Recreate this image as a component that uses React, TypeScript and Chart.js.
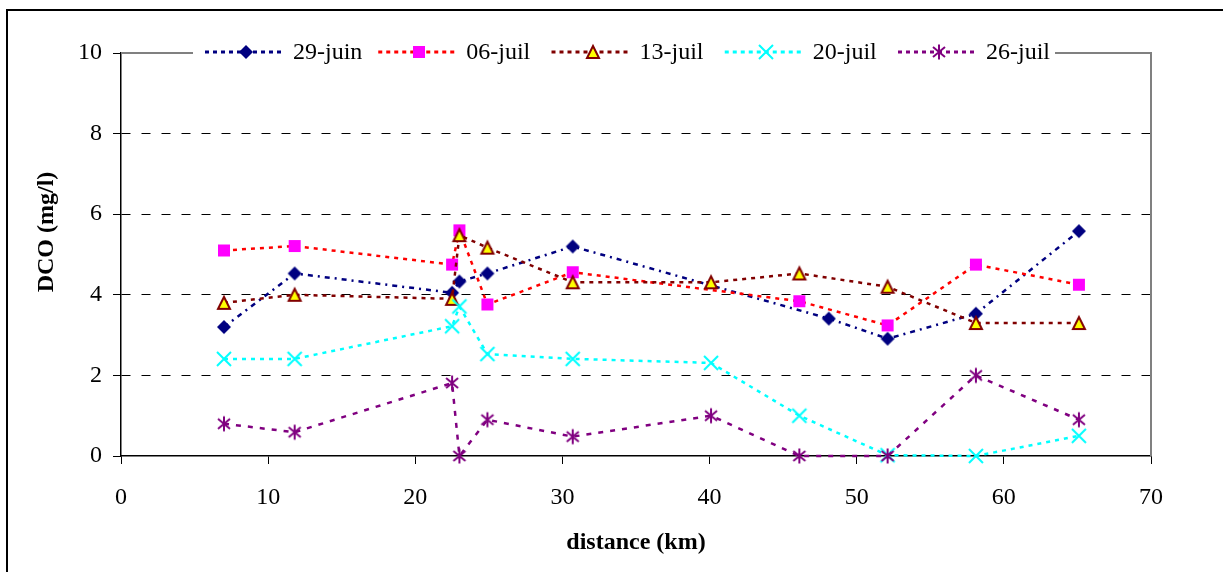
import React, { useEffect, useRef } from 'react';
import { Chart, registerables } from 'chart.js';

Chart.register(...registerables);

// ---- Data ----
const SERIES_NAMES = ['29-juin', '06-juil', '13-juil', '20-juil', '26-juil'];

const DIST_29JUIN = [7, 11.8, 22.5, 23, 24.9, 30.7, 48.1, 52.1, 58.1, 65.1];
const DCO_29JUIN = [3.2, 4.53, 4.05, 4.33, 4.53, 5.2, 3.41, 2.91, 3.53, 5.58];

const DIST_06JUIL = [7, 11.8, 22.5, 23, 24.9, 30.7, 46.1, 52.1, 58.1, 65.1];
const DCO_06JUIL = [5.1, 5.21, 4.75, 5.6, 3.76, 4.56, 3.84, 3.24, 4.75, 4.25];

const DIST_13JUIL = [7, 11.8, 22.5, 23, 24.9, 30.7, 40.1, 46.1, 52.1, 58.1, 65.1];
const DCO_13JUIL = [3.8, 4.0, 3.9, 5.48, 5.17, 4.31, 4.31, 4.53, 4.2, 3.3, 3.3];

const DIST_20JUIL = [7, 11.8, 22.5, 23, 24.9, 30.7, 40.1, 46.1, 52.1, 58.1, 65.1];
const DCO_20JUIL = [2.41, 2.41, 3.22, 3.71, 2.53, 2.41, 2.31, 1.0, 0.02, 0, 0.5];

const DIST_26JUIL = [7, 11.8, 22.5, 23, 24.9, 30.7, 40.1, 46.1, 52.1, 58.1, 65.1];
const DCO_26JUIL = [0.8, 0.59, 1.81, 0, 0.9, 0.48, 1.0, 0, 0, 2.0, 0.9];

const X_MIN = 0;
const X_MAX = 70;
const X_STEP = 10;
const Y_MIN = 0;
const Y_MAX = 10;
const Y_STEP = 2;

const X_TITLE = 'distance (km)';
const Y_TITLE = 'DCO (mg/l)';

const FONT = "'Liberation Serif', 'Times New Roman', serif";

// ---- Marker images ----
function makeMarker(kind: string): HTMLCanvasElement {
  const c = document.createElement('canvas');
  c.width = 18;
  c.height = 18;
  const g = c.getContext('2d')!;
  g.lineCap = 'butt';
  if (kind === 'diamond') {
    g.fillStyle = '#000080';
    g.beginPath();
    g.moveTo(9, 2);
    g.lineTo(16, 9);
    g.lineTo(9, 16);
    g.lineTo(2, 9);
    g.closePath();
    g.fill();
  } else if (kind === 'square') {
    g.fillStyle = '#FF00FF';
    g.fillRect(3, 3, 12, 12);
  } else if (kind === 'triangle') {
    g.fillStyle = '#FFFF00';
    g.strokeStyle = '#800000';
    g.lineWidth = 2;
    g.beginPath();
    g.moveTo(9, 3);
    g.lineTo(15, 15);
    g.lineTo(3, 15);
    g.closePath();
    g.fill();
    g.stroke();
  } else if (kind === 'cross') {
    g.strokeStyle = '#00FFFF';
    g.lineWidth = 2;
    g.beginPath();
    g.moveTo(2, 2);
    g.lineTo(16, 16);
    g.moveTo(16, 2);
    g.lineTo(2, 16);
    g.stroke();
  } else {
    g.strokeStyle = '#800080';
    g.lineWidth = 2;
    g.beginPath();
    g.moveTo(9, 1.5);
    g.lineTo(9, 16.5);
    g.moveTo(3, 4);
    g.lineTo(15, 14);
    g.moveTo(15, 4);
    g.lineTo(3, 14);
    g.stroke();
  }
  return c;
}

function pts(xs: number[], ys: number[]) {
  return xs.map((x, i) => ({ x, y: ys[i] }));
}

// ---- Plugins ----
const framePlugin = {
  id: 'frame',
  beforeDraw(chart: any) {
    const ctx = chart.ctx;
    ctx.save();
    ctx.fillStyle = '#fff';
    ctx.fillRect(0, 0, chart.width, chart.height);
    ctx.strokeStyle = '#000';
    ctx.lineWidth = 2;
    ctx.strokeRect(7, 10, 1400, 800);
    ctx.restore();
  },
  beforeDatasetsDraw(chart: any) {
    const { ctx, chartArea } = chart;
    ctx.save();
    ctx.strokeStyle = '#808080';
    ctx.lineWidth = 2;
    ctx.beginPath();
    ctx.moveTo(chartArea.left, chartArea.top);
    ctx.lineTo(chartArea.right, chartArea.top);
    ctx.lineTo(chartArea.right, chartArea.bottom);
    ctx.stroke();
    ctx.restore();
  },
};

const legendPlugin = {
  id: 'customLegend',
  afterDraw(chart: any) {
    const ctx = chart.ctx;
    const y = chart.chartArea.top - 1;
    ctx.save();
    ctx.fillStyle = '#fff';
    ctx.fillRect(193, y - 13, 862, 26);
    chart.data.datasets.forEach((ds: any, i: number) => {
      const x0 = 205 + i * 173.25;
      ctx.setLineDash([4, 4]);
      ctx.strokeStyle = ds.borderColor;
      ctx.lineWidth = 3;
      ctx.beginPath();
      ctx.moveTo(x0, y);
      ctx.lineTo(x0 + 78, y);
      ctx.stroke();
      ctx.setLineDash([]);
      const img = ds.pointStyle as HTMLCanvasElement;
      ctx.drawImage(img, Math.round(x0 + 41 - img.width / 2), Math.round(y - img.height / 2));
      ctx.fillStyle = '#000';
      ctx.font = `24px ${FONT}`;
      ctx.textBaseline = 'middle';
      ctx.textAlign = 'left';
      ctx.fillText(ds.label, x0 + 88, y + 1);
    });
    ctx.restore();
  },
};

const yTitlePlugin = {
  id: 'yTitle',
  afterDraw(chart: any) {
    const ctx = chart.ctx;
    ctx.save();
    ctx.translate(47, 232);
    ctx.rotate(-Math.PI / 2);
    ctx.fillStyle = '#000';
    ctx.font = `bold 24px ${FONT}`;
    ctx.textAlign = 'center';
    ctx.textBaseline = 'middle';
    ctx.fillText(Y_TITLE, 0, 0);
    ctx.restore();
  },
};

export default function App() {
  const canvasRef = useRef<HTMLCanvasElement | null>(null);

  useEffect(() => {
    const canvas = canvasRef.current;
    if (!canvas) return;

    const markers = ['diamond', 'square', 'triangle', 'cross', 'asterisk'].map(makeMarker);
    const colors = ['#000080', '#FF0000', '#800000', '#00FFFF', '#800080'];
    const dashes = [[5, 5, 2, 5], [4, 5], [4, 5], [4, 5], [5, 7]];
    const seriesData = [
      pts(DIST_29JUIN, DCO_29JUIN),
      pts(DIST_06JUIL, DCO_06JUIL),
      pts(DIST_13JUIL, DCO_13JUIL),
      pts(DIST_20JUIL, DCO_20JUIL),
      pts(DIST_26JUIL, DCO_26JUIL),
    ];

    const datasets = SERIES_NAMES.map((name, i) => ({
      label: name,
      data: seriesData[i],
      borderColor: colors[i],
      backgroundColor: colors[i],
      borderWidth: 2.5,
      borderDash: dashes[i],
      pointStyle: markers[i],
      pointRadius: 7,
      pointHoverRadius: 7,
      tension: 0,
      clip: false as any,
      order: SERIES_NAMES.length - i,
    }));

    const chart = new Chart(canvas, {
      type: 'line',
      data: { datasets },
      plugins: [framePlugin, legendPlugin, yTitlePlugin],
      options: {
        animation: false,
        responsive: false,
        maintainAspectRatio: false,
        devicePixelRatio: 1,
        layout: { padding: { left: 0, top: 53, right: 72, bottom: 0 } },
        plugins: {
          legend: { display: false },
          tooltip: { enabled: false },
        },
        scales: {
          x: {
            type: 'linear',
            min: X_MIN,
            max: X_MAX,
            ticks: {
              stepSize: X_STEP,
              color: '#000',
              font: { family: FONT, size: 24 },
              padding: 19,
              maxRotation: 0,
              autoSkip: false,
            },
            grid: {
              drawOnChartArea: false,
              drawTicks: true,
              tickLength: 8,
              tickColor: '#000',
              tickWidth: 1,
            },
            border: { display: true, color: '#000', width: 1.5 },
            title: {
              display: true,
              text: X_TITLE,
              color: '#000',
              font: { family: FONT, size: 24, weight: 'bold' },
              padding: { top: 0, bottom: 15 },
            },
            afterFit: (scale: any) => {
              scale.height = 116;
            },
          },
          y: {
            type: 'linear',
            min: Y_MIN,
            max: Y_MAX,
            ticks: {
              stepSize: Y_STEP,
              color: '#000',
              font: { family: FONT, size: 24 },
              padding: 11,
            },
            grid: {
              drawOnChartArea: true,
              drawTicks: true,
              tickLength: 8,
              tickColor: '#000',
              tickWidth: 1,
              tickBorderDash: [],
              lineWidth: 1,
              color: (ctx: any) =>
                ctx.tick && (ctx.tick.value === Y_MIN || ctx.tick.value === Y_MAX) ? 'rgba(0,0,0,0)' : '#000',
            },
            border: { display: true, color: '#000', width: 1.5, dash: [9, 11] },
            afterFit: (scale: any) => {
              scale.width = 121;
            },
          },
        },
      } as any,
    });

    return () => {
      chart.destroy();
    };
  }, []);

  return (
    <div style={{ position: 'absolute', left: 0, top: 0, width: 1223, height: 572, background: '#fff' }}>
      <canvas ref={canvasRef} width={1223} height={572} style={{ display: 'block', width: 1223, height: 572 }} />
    </div>
  );
}
